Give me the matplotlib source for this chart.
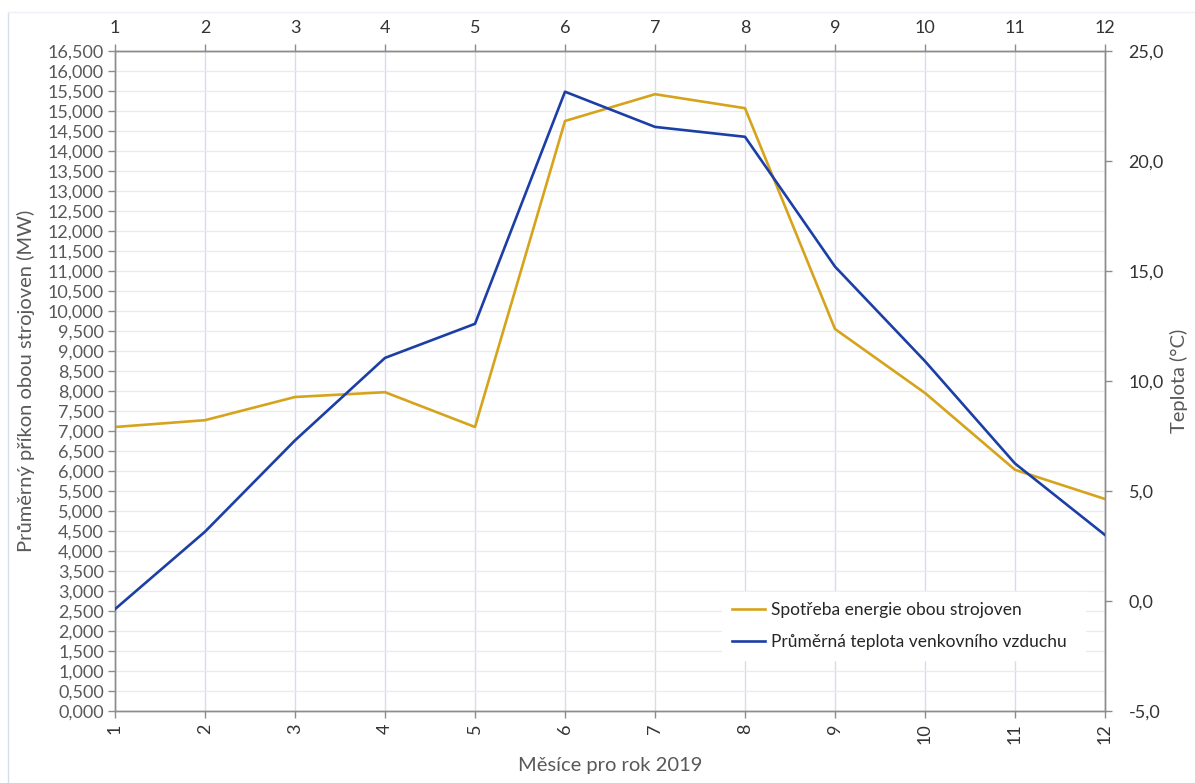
import matplotlib
matplotlib.use("Agg")
import matplotlib.pyplot as plt
from matplotlib.lines import Line2D
import numpy as np

# Monthly data for 2019
months = [1, 2, 3, 4, 5, 6, 7, 8, 9, 10, 11, 12]
energy_mw = [7.10, 7.27, 7.85, 7.97, 7.10, 14.75, 15.42, 15.07, 9.55, 7.95, 6.03, 5.30]
temp_c = [-0.37, 3.15, 7.30, 11.05, 12.60, 23.15, 21.55, 21.10, 15.20, 10.90, 6.25, 3.00]

energy_label = "Spotřeba energie obou strojoven"
temp_label = "Průměrná teplota venkovního vzduchu"
x_title = "Měsíce pro rok 2019"
y_left_title = "Průměrný příkon obou strojoven (MW)"
y_right_title = "Teplota (°C)"

left_ticks = np.arange(0, 16.5001, 0.5)
right_ticks = [-5, 0, 5, 10, 15, 20, 25]

ORANGE = "#D6A31C"
BLUE = "#1C3FA6"
AXIS_GRAY = "#8C8C8C"
LABEL_GRAY = "#595959"
TEXT_DARK = "#333333"

plt.rcParams["font.family"] = ["Lato", "DejaVu Sans"]

fig = plt.figure(figsize=(11.95, 7.83), dpi=100)
fig.patch.set_facecolor("white")
ax = fig.add_axes([115 / 1195, 72 / 783, 990 / 1195, 660 / 783])

# faint chart-area border
fig.add_artist(Line2D([8 / 1195, 8 / 1195], [0, 1 - 12 / 783], transform=fig.transFigure,
                      color="#D5DEEC", lw=1.0))
fig.add_artist(Line2D([8 / 1195, 1], [1 - 12 / 783, 1 - 12 / 783], transform=fig.transFigure,
                      color="#EEF1F6", lw=1.0))

ax.set_xlim(1, 12)
ax.set_ylim(0, 16.5)
ax.set_yticks(left_ticks)
ax.set_yticklabels([f"{v:.3f}".replace(".", ",") for v in left_ticks])
ax.set_xticks(months)
ax.set_xticklabels([str(m) for m in months], rotation=90)

ax.grid(axis="y", color="#EBEBEB", lw=1.0)
ax.grid(axis="x", color="#D2DDF1", lw=1.0)
ax.set_axisbelow(True)

for side in ["left", "bottom", "top", "right"]:
    ax.spines[side].set_color(AXIS_GRAY)
    ax.spines[side].set_linewidth(1.0)

ax.tick_params(axis="y", colors=AXIS_GRAY, labelcolor=LABEL_GRAY, labelsize=13,
               length=5, width=1, direction="out", pad=3)
ax.tick_params(axis="x", colors=AXIS_GRAY, labelcolor=TEXT_DARK, labelsize=13,
               length=5, width=1, direction="out", pad=4)

l1, = ax.plot(months, energy_mw, color=ORANGE, lw=1.9, zorder=3)

ax2 = ax.twinx()
ax2.set_ylim(-5, 25)
ax2.set_yticks(right_ticks)
ax2.set_yticklabels([f"{v:.1f}".replace(".", ",") for v in right_ticks])
ax2.tick_params(axis="y", colors=AXIS_GRAY, labelcolor=TEXT_DARK, labelsize=13,
                length=5, width=1, direction="out", pad=12)
for side in ["left", "bottom", "top", "right"]:
    ax2.spines[side].set_color(AXIS_GRAY)
    ax2.spines[side].set_linewidth(1.0)
l2, = ax2.plot(months, temp_c, color=BLUE, lw=1.9, zorder=3)

top = ax.secondary_xaxis("top")
top.set_xticks(months)
top.set_xticklabels([str(m) for m in months])
top.tick_params(axis="x", colors=AXIS_GRAY, labelcolor=TEXT_DARK, labelsize=13,
                length=5, width=1, direction="out", pad=6)
top.spines["top"].set_color(AXIS_GRAY)

ax.set_xlabel(x_title, fontsize=14.5, color=LABEL_GRAY, labelpad=9)
ax.set_ylabel(y_left_title, fontsize=14.5, color=LABEL_GRAY, labelpad=9)
ax2.set_ylabel(y_right_title, fontsize=14.5, color=LABEL_GRAY, labelpad=4)

leg = ax2.legend(handles=[l1, l2], labels=[energy_label, temp_label],
                 loc="lower left", bbox_to_anchor=(722 / 1195, 123 / 783, 363 / 1195, 70 / 783),
                 bbox_transform=fig.transFigure, mode="expand",
                 frameon=True, fancybox=False, framealpha=1.0, edgecolor="white",
                 fontsize=12.5, handlelength=1.9, handletextpad=0.3, labelspacing=0.9,
                 borderpad=0.6, borderaxespad=0)
for t in leg.get_texts():
    t.set_color("#262626")
leg.set_zorder(5)

fig.savefig("out.png", dpi=100, facecolor="white")
